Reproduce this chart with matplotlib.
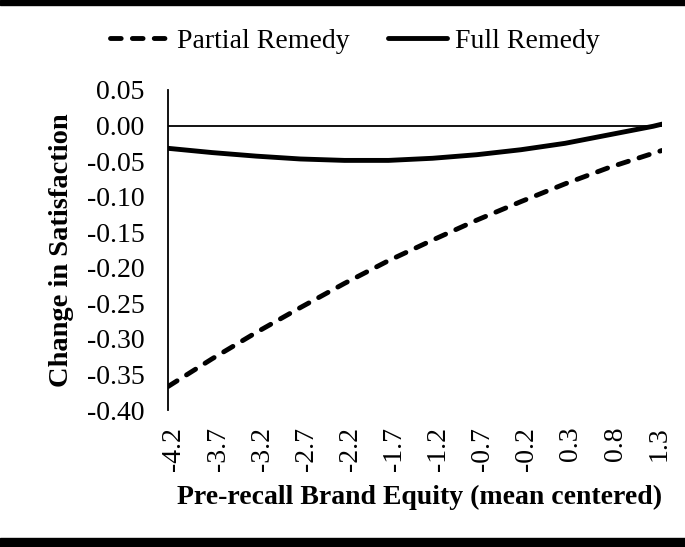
import numpy as np
import matplotlib
matplotlib.use("Agg")
import matplotlib.pyplot as plt
import matplotlib.transforms as mtransforms

plt.rcParams["font.family"] = ["Liberation Serif", "DejaVu Serif"]

# Pre-recall brand equity (mean centered)
equity = [-4.2, -3.7, -3.2, -2.7, -2.2, -1.7, -1.2, -0.7, -0.2, 0.3, 0.8, 1.3, 1.4]
partial = [-0.367, -0.328, -0.291, -0.256, -0.222, -0.190, -0.161,
           -0.133, -0.107, -0.082, -0.059, -0.039, -0.035]
full = [-0.032, -0.038, -0.043, -0.047, -0.049, -0.049, -0.046,
        -0.041, -0.034, -0.025, -0.013, -0.001, 0.002]
xticks = [-4.2, -3.7, -3.2, -2.7, -2.2, -1.7, -1.2, -0.7, -0.2, 0.3, 0.8, 1.3]
yticks = [0.05, 0.00, -0.05, -0.10, -0.15, -0.20, -0.25, -0.30, -0.35, -0.40]

W, H = 685, 547
fig = plt.figure(figsize=(W / 100, H / 100), dpi=100)
ax = fig.add_axes([168 / W, (H - 410) / H, (662 - 168) / W, 320 / H])

lp, = ax.plot(equity, partial, color="black", lw=3.5, dashes=(2.2, 2.3),
              dash_capstyle="round", label="Partial Remedy")
lf, = ax.plot(equity, full, color="black", lw=3.5, solid_capstyle="round",
              label="Full Remedy")
ax.axhline(0, color="black", lw=1.3, zorder=1)

ax.set_xlim(-4.2, 1.4)
ax.set_ylim(-0.40, 0.05)
ax.set_xticks(xticks)
ax.set_xticklabels([f"{t:.1f}" for t in xticks], rotation=90)
ax.set_yticks(yticks)
ax.set_yticklabels([f"{t:.2f}" for t in yticks])
ax.tick_params(axis="both", length=0, labelsize=20)
ax.tick_params(axis="y", pad=17)
ax.tick_params(axis="x", pad=12)

# rotated labels sit a little right of the tick position in the original
shift = mtransforms.ScaledTranslation(6 / 100, 0, fig.dpi_scale_trans)
for lab in ax.get_xticklabels():
    lab.set_transform(lab.get_transform() + shift)

for s in ["top", "right", "bottom"]:
    ax.spines[s].set_visible(False)
ax.spines["left"].set_linewidth(1.3)

fig.text(62 / W, 1 - 250 / H, "Change in Satisfaction", rotation=90,
         ha="center", va="center", fontsize=20.5, fontweight="bold")
fig.text(420 / W, 1 - 497 / H, "Pre-recall Brand Equity (mean centered)",
         ha="center", va="center", fontsize=20, fontweight="bold")

fig.legend(handles=[lp, lf], loc="center", bbox_to_anchor=(355 / W, 1 - 41 / H),
           ncol=2, frameon=False, fontsize=20, handlelength=2.1,
           handletextpad=0.3, columnspacing=1.4)

# thick rules at top and bottom
fig.add_artist(plt.Rectangle((0, 1 - 5 / H), 1, 5 / H, transform=fig.transFigure,
                             color="black"))
fig.add_artist(plt.Rectangle((0, 0), 1, 9 / H, transform=fig.transFigure,
                             color="black"))

fig.savefig("out.png", dpi=100)
